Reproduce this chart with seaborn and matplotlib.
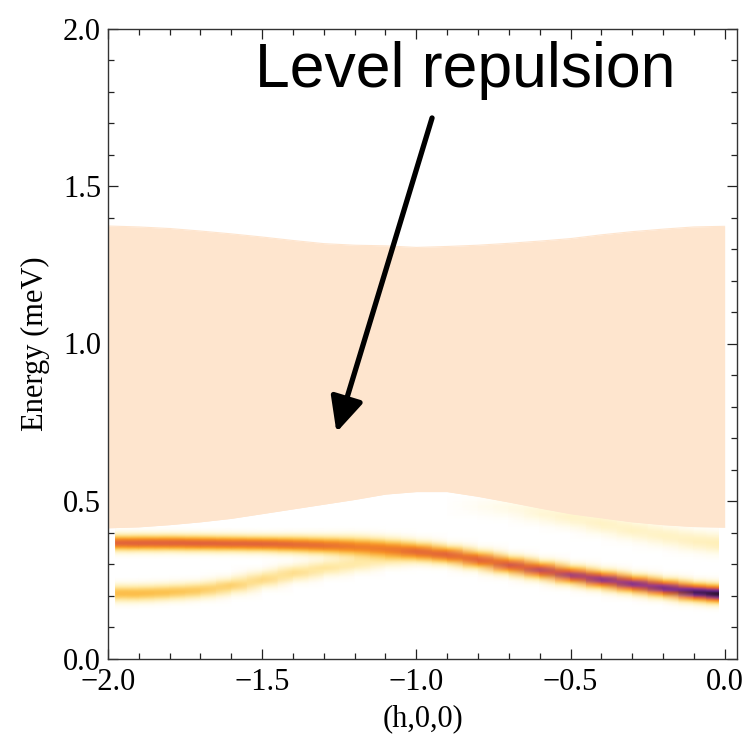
import numpy as np
import matplotlib
matplotlib.use("Agg")
import matplotlib.pyplot as plt
import seaborn as sns
from matplotlib.colors import LinearSegmentedColormap
from matplotlib.ticker import MultipleLocator

# ---------------- data ----------------
h_band = [-2.0, -1.9, -1.8, -1.7, -1.6, -1.5, -1.4, -1.3, -1.2, -1.1, -1.0,
          -0.9, -0.8, -0.7, -0.6, -0.5, -0.4, -0.3, -0.2, -0.1, 0.0]
band_low = [0.415, 0.418, 0.425, 0.434, 0.445, 0.460, 0.475, 0.490, 0.505, 0.522, 0.530,
            0.530, 0.515, 0.497, 0.478, 0.460, 0.447, 0.434, 0.425, 0.419, 0.417]
band_high = [1.373, 1.370, 1.365, 1.357, 1.348, 1.338, 1.327, 1.317, 1.312, 1.310, 1.305,
             1.308, 1.312, 1.318, 1.325, 1.333, 1.345, 1.355, 1.363, 1.370, 1.372]

h_modes = [-1.975, -1.9, -1.8, -1.7, -1.6, -1.5, -1.4, -1.3, -1.2, -1.1, -1.0,
           -0.9, -0.8, -0.7, -0.6, -0.5, -0.4, -0.3, -0.2, -0.1, -0.02]
main_E = [0.368, 0.368, 0.368, 0.367, 0.366, 0.365, 0.363, 0.360, 0.356, 0.350, 0.342,
          0.330, 0.315, 0.298, 0.282, 0.266, 0.252, 0.238, 0.225, 0.212, 0.206]
main_I = [0.58, 0.59, 0.59, 0.59, 0.58, 0.58, 0.56, 0.54, 0.50, 0.50, 0.53,
          0.57, 0.60, 0.63, 0.67, 0.72, 0.77, 0.77, 0.80, 0.90, 0.96]
main_w = [0.016, 0.016, 0.016, 0.016, 0.016, 0.016, 0.017, 0.018, 0.020, 0.020, 0.019,
          0.018, 0.018, 0.018, 0.018, 0.018, 0.018, 0.018, 0.018, 0.018, 0.018]
low_E = [0.208, 0.208, 0.212, 0.218, 0.232, 0.252, 0.272, 0.288, 0.300, 0.313, 0.325,
         0.335, 0.340, 0.340, 0.340, 0.340, 0.340, 0.340, 0.340, 0.340, 0.340]
low_I = [0.32, 0.32, 0.30, 0.27, 0.25, 0.22, 0.20, 0.17, 0.14, 0.10, 0.06,
         0.02, 0.0, 0.0, 0.0, 0.0, 0.0, 0.0, 0.0, 0.0, 0.0]
faint_E = [0.50, 0.50, 0.50, 0.50, 0.50, 0.50, 0.50, 0.50, 0.50, 0.50, 0.50,
           0.49, 0.485, 0.480, 0.465, 0.450, 0.430, 0.410, 0.392, 0.375, 0.366]
faint_I = [0.0, 0.0, 0.0, 0.0, 0.0, 0.0, 0.0, 0.0, 0.0, 0.0, 0.0,
           0.0, 0.02, 0.04, 0.07, 0.09, 0.10, 0.10, 0.10, 0.11, 0.12]

x_ticks = [-2.0, -1.5, -1.0, -0.5, 0.0]
y_ticks = [0.0, 0.5, 1.0, 1.5, 2.0]

# ---------------- style ----------------
sns.set_style("ticks")
plt.rcParams['font.family'] = ['Liberation Serif', 'DejaVu Serif']
plt.rcParams['axes.unicode_minus'] = True
plt.rcParams['text.color'] = 'black'
plt.rcParams['axes.labelcolor'] = 'black'
plt.rcParams['xtick.labelcolor'] = 'black'
plt.rcParams['ytick.labelcolor'] = 'black'

peach = "#FEE5CE"
cmap = LinearSegmentedColormap.from_list("sunset_r", [
    (0.00, (1.00, 1.00, 1.00)),
    (0.05, (1.00, 0.98, 0.88)),
    (0.15, (1.00, 0.92, 0.66)),
    (0.30, (0.99, 0.77, 0.32)),
    (0.45, (0.97, 0.56, 0.14)),
    (0.60, (0.88, 0.38, 0.24)),
    (0.75, (0.58, 0.22, 0.55)),
    (0.87, (0.36, 0.14, 0.48)),
    (1.00, (0.08, 0.04, 0.03)),
])

fig = plt.figure(figsize=(7.46, 7.41), dpi=100)
ax = fig.add_axes([108 / 746, (741 - 658.5) / 741, 629 / 746, 630 / 741])

# ---------------- intensity map ----------------
E_grid = np.arange(0.10, 0.54, 0.003)
H = np.asarray(h_modes)
Z = np.zeros((len(E_grid), len(H)))
for Ec, Ic, wc in [(main_E, main_I, main_w),
                   (low_E, low_I, [0.017] * len(H)),
                   (faint_E, faint_I, [0.022] * len(H))]:
    Ec = np.asarray(Ec)[None, :]
    Ic = np.asarray(Ic)[None, :]
    wc = np.asarray(wc)[None, :]
    Z += Ic * np.exp(-(E_grid[:, None] - Ec) ** 2 / (2 * wc ** 2))
Z = np.clip(Z, 0, 1)
ax.pcolormesh(H, E_grid, Z, shading='gouraud', cmap=cmap, vmin=0, vmax=1,
              zorder=1, rasterized=True)

# ---------------- continuum band ----------------
ax.fill_between(h_band, band_low, band_high, color=peach, lw=0, zorder=2)
sns.lineplot(x=h_band, y=band_low, color=peach, lw=0.8, ax=ax, zorder=2)
sns.lineplot(x=h_band, y=band_high, color=peach, lw=0.8, ax=ax, zorder=2)

# ---------------- annotation ----------------
ax.text(-0.842, 1.815, "Level repulsion", family=['Liberation Sans', 'DejaVu Sans'],
        fontsize=45, ha='center', va='baseline', color='black', zorder=5)
ax.annotate("", xy=(-1.259, 0.718), xytext=(-0.949, 1.716),
            arrowprops=dict(arrowstyle='-|>,head_length=1.05,head_width=0.5',
                            mutation_scale=20, lw=3.8, color='black',
                            shrinkA=0, shrinkB=0), zorder=5)

# ---------------- axes ----------------
ax.set_xlim(-2.0, 0.04)
ax.set_ylim(0.0, 2.0)
ax.set_xticks(x_ticks)
ax.set_yticks(y_ticks)
ax.set_xticklabels([f"{v:.1f}".replace("-", "\u2212") for v in x_ticks])
ax.set_yticklabels([f"{v:.1f}" for v in y_ticks])
ax.xaxis.set_minor_locator(MultipleLocator(0.1))
ax.yaxis.set_minor_locator(MultipleLocator(0.1))
ax.tick_params(which='both', direction='in', top=True, right=True,
               color='#222222', width=0.9)
ax.tick_params(which='major', length=7, labelsize=22, pad=7)
ax.tick_params(which='minor', length=4)
ax.tick_params(axis='y', which='major', pad=5)
for s in ax.spines.values():
    s.set_color('#333333')
    s.set_linewidth(1.0)
    s.set_zorder(6)
ax.set_xlabel("(h,0,0)", fontsize=22, labelpad=5)
ax.set_ylabel("Energy (meV)", fontsize=22, labelpad=9)

fig.savefig("out.png", dpi=100)
